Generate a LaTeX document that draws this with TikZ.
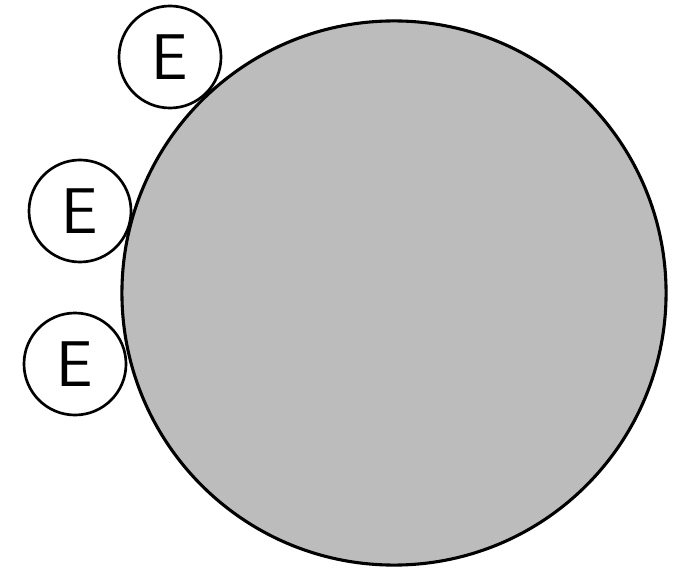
\documentclass[tikz,border=0pt]{standalone}
\usepackage{fontspec}
\usetikzlibrary{positioning}
\definecolor{cellgray}{RGB}{188,188,188}

\begin{document}
\begin{tikzpicture}[x=0.025cm, y=0.025cm,
            cell/.style={circle, draw=black, fill=cellgray, line width=2.2pt, minimum size=13.6cm, inner sep=0pt},
            enz/.style={circle, draw=black, fill=white, line width=1.9pt, minimum size=2.55cm, inner sep=0pt, font=\sffamily\fontsize{46}{46}\selectfont}
        ]
            \useasboundingbox (0,0) rectangle (676,573);
            \node[cell] (cell) at (394,280) {};
            \node[enz] (e1) at (170,516) {E};
            \node[enz] (e2) at (80,362) {E};
            \node[enz] (e3) at (75,209) {E};
        \end{tikzpicture}
\end{document}
